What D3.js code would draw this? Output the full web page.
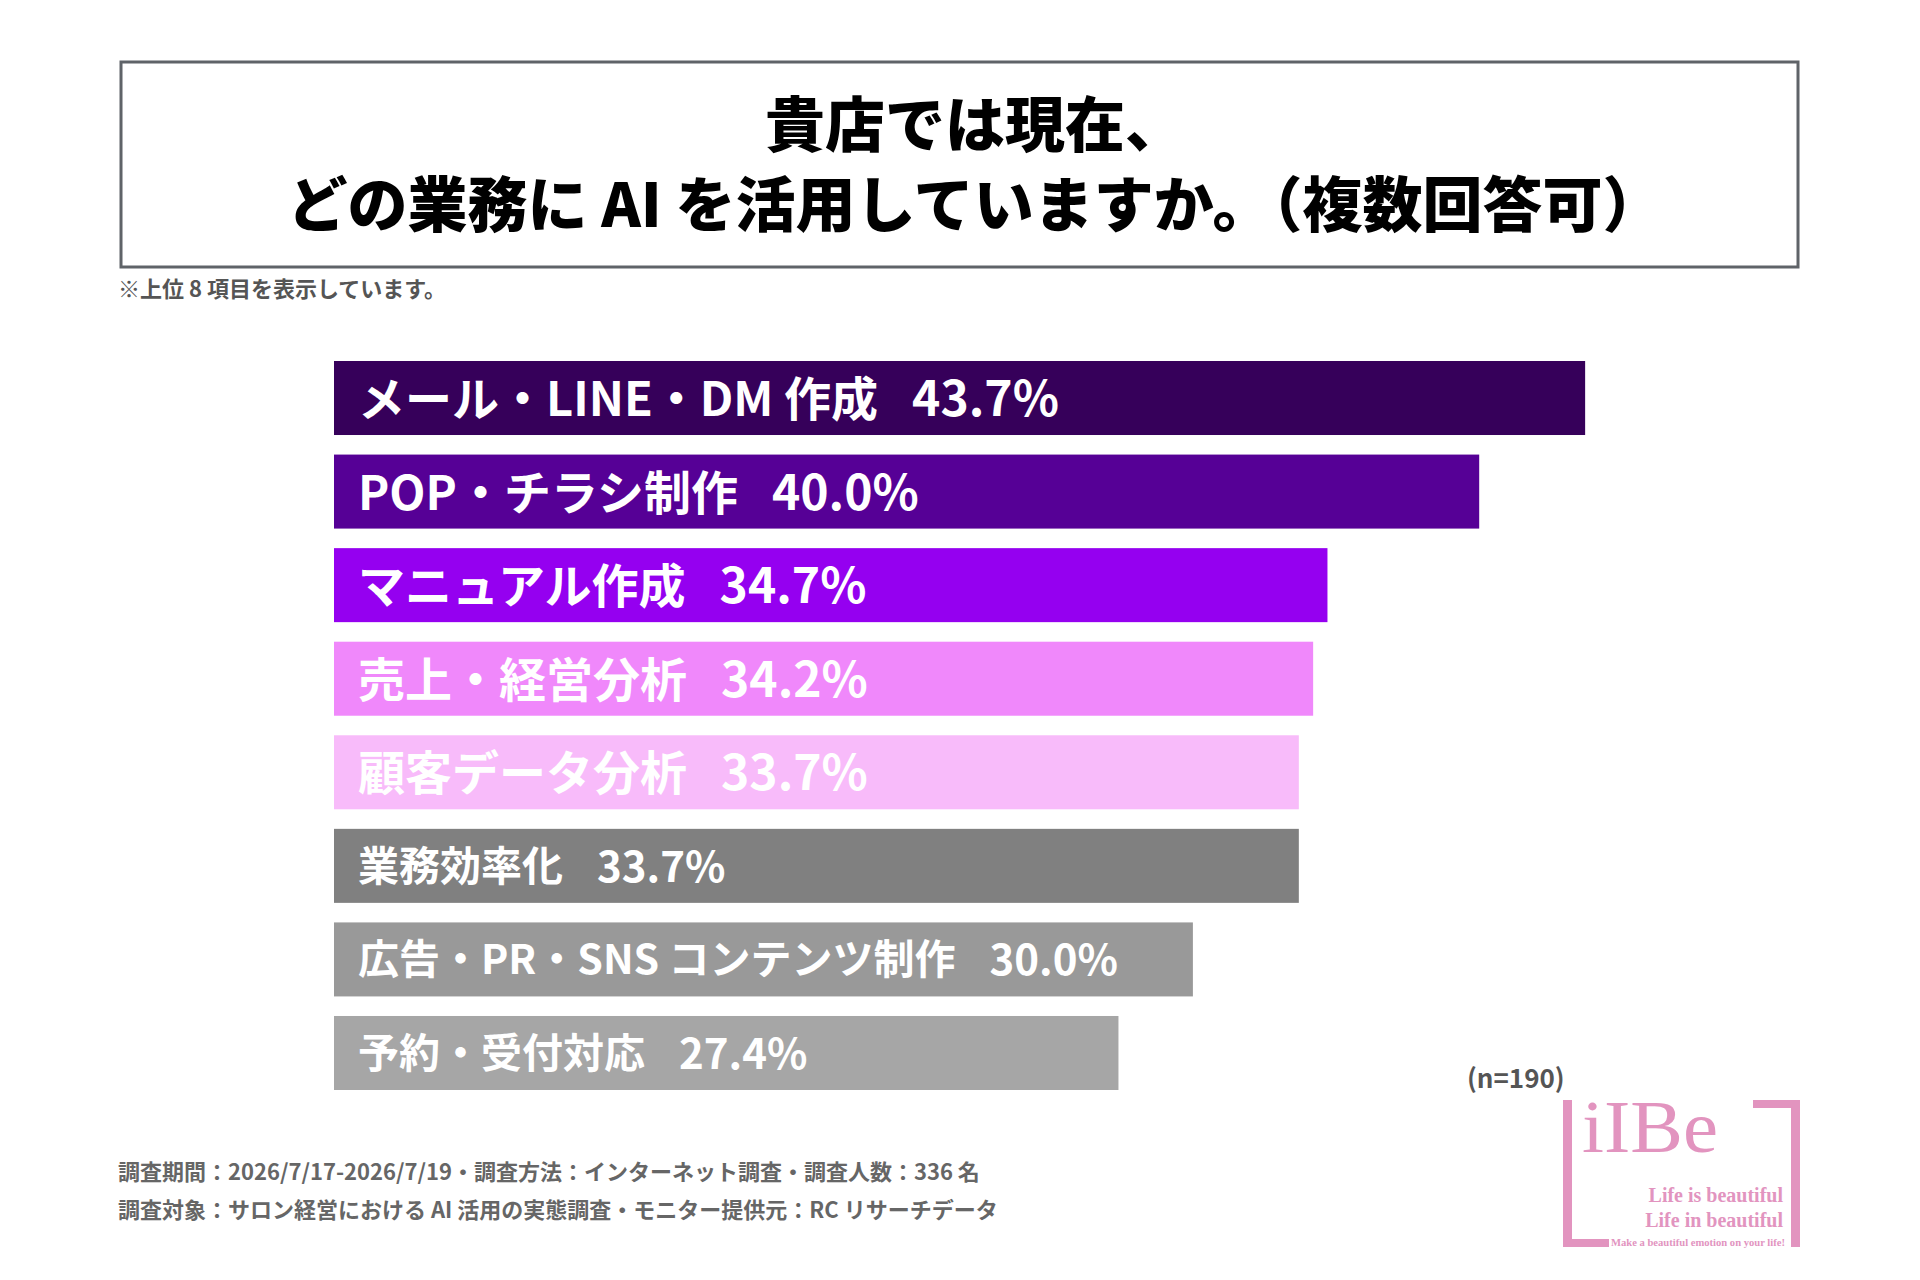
<!DOCTYPE html>
<html lang="ja">
<head>
<meta charset="utf-8">
<script src="https://cdn.jsdelivr.net/npm/d3@7/dist/d3.min.js"></script>
<style>
  html, body { margin: 0; padding: 0; background: #ffffff; }
  svg { display: block; }
  .jp { font-family: "Noto Sans CJK JP", "Noto Sans", sans-serif; }
  .serif { font-family: "Liberation Serif", "DejaVu Serif", serif; }
</style>
</head>
<body>
<script>
// ---- data ----
const categories = [
  "メール・LINE・DM 作成",
  "POP・チラシ制作",
  "マニュアル作成",
  "売上・経営分析",
  "顧客データ分析",
  "業務効率化",
  "広告・PR・SNS コンテンツ制作",
  "予約・受付対応"
];
const values = [43.7, 40.0, 34.7, 34.2, 33.7, 33.7, 30.0, 27.4];
const barColors = ["#36005a", "#560096", "#9500f0", "#f088fb", "#f8bbfa", "#808080", "#999999", "#a6a6a6"];
const titleLines = ["貴店では現在、", "どの業務に AI を活用していますか。（複数回答可）"];
const noteText = "※上位 8 項目を表示しています。";
const sampleText = "(n=190)";
const footerLines = [
  "調査期間：2026/7/17-2026/7/19・調査方法：インターネット調査・調査人数：336 名",
  "調査対象：サロン経営における AI 活用の実態調査・モニター提供元：RC リサーチデータ"
];

const W = 1920, H = 1280;
const svg = d3.select("body").append("svg").attr("width", W).attr("height", H);

// ---- title box ----
svg.append("rect")
  .attr("x", 121).attr("y", 62).attr("width", 1677).attr("height", 205)
  .attr("fill", "#fff").attr("stroke", "#5f6368").attr("stroke-width", 3);

svg.selectAll("text.title").data(titleLines).enter().append("text")
  .attr("class", "title jp")
  .attr("x", 975)
  .attr("y", (d, i) => 120 + i * 80)
  .attr("text-anchor", "middle")
  .attr("dominant-baseline", "central")
  .attr("font-size", 60)
  .attr("font-weight", 900)
  .attr("fill", "#000")
  .text(d => d);

svg.append("text")
  .attr("class", "jp")
  .attr("x", 118).attr("y", 287)
  .attr("dominant-baseline", "central")
  .attr("font-size", 22).attr("font-weight", 700).attr("fill", "#555")
  .text(noteText);

// ---- scales ----
const x = d3.scaleLinear().domain([0, 50]).range([334, 334 + 50 * 28.63]);
const y = d3.scaleBand().domain(categories).range([361, 1090]).paddingInner(0.209).paddingOuter(0);
const labelSize = i => (i < 5 ? 47 : 41);

const g = svg.append("g");
g.selectAll("rect.bar").data(categories).enter().append("rect")
  .attr("class", "bar")
  .attr("x", x(0))
  .attr("y", d => y(d))
  .attr("width", (d, i) => x(values[i]) - x(0))
  .attr("height", y.bandwidth())
  .attr("fill", (d, i) => barColors[i]);

const labels = g.selectAll("text.lbl").data(categories).enter().append("text")
  .attr("class", "lbl jp")
  .attr("x", x(0) + 24)
  .attr("y", d => y(d) + y.bandwidth() / 2 - 3)
  .attr("dominant-baseline", "central")
  .attr("font-size", (d, i) => labelSize(i))
  .attr("font-weight", 700)
  .attr("fill", "#fff");
labels.append("tspan").text(d => d);
labels.append("tspan").attr("dx", 34).attr("font-size", (d, i) => labelSize(i) + 1)
  .text((d, i) => values[i].toFixed(1) + "%");

// ---- n ----
svg.append("text")
  .attr("class", "jp")
  .attr("x", 1467).attr("y", 1076)
  .attr("dominant-baseline", "central")
  .attr("font-size", 26).attr("font-weight", 700).attr("fill", "#555")
  .text(sampleText);

// ---- footer ----
svg.selectAll("text.foot").data(footerLines).enter().append("text")
  .attr("class", "foot jp")
  .attr("x", 118)
  .attr("y", (d, i) => 1170 + i * 38)
  .attr("dominant-baseline", "central")
  .attr("font-size", 22).attr("font-weight", 700).attr("fill", "#666")
  .text(d => d);

// ---- logo ----
const pink = "#e294bf";
const logo = svg.append("g");
logo.append("rect").attr("x", 1563).attr("y", 1100).attr("width", 9).attr("height", 147).attr("fill", pink);
logo.append("rect").attr("x", 1563).attr("y", 1239).attr("width", 46).attr("height", 8).attr("fill", pink);
logo.append("rect").attr("x", 1753).attr("y", 1100).attr("width", 47).attr("height", 8).attr("fill", pink);
logo.append("rect").attr("x", 1791).attr("y", 1100).attr("width", 9).attr("height", 147).attr("fill", pink);
logo.append("text").attr("class", "serif").attr("x", 1582).attr("y", 1152)
  .attr("font-size", 74).attr("fill", pink)
  .attr("textLength", 136).attr("lengthAdjust", "spacingAndGlyphs").text("iIBe");
logo.append("text").attr("class", "serif").attr("x", 1783).attr("y", 1202).attr("text-anchor", "end")
  .attr("font-weight", 700).attr("font-size", 20).attr("fill", pink).text("Life is beautiful");
logo.append("text").attr("class", "serif").attr("x", 1783).attr("y", 1227).attr("text-anchor", "end")
  .attr("font-weight", 700).attr("font-size", 20).attr("fill", pink).text("Life in beautiful");
logo.append("text").attr("class", "serif").attr("x", 1611).attr("y", 1246)
  .attr("font-weight", 700).attr("font-size", 11).attr("fill", pink)
  .attr("textLength", 174).attr("lengthAdjust", "spacingAndGlyphs")
  .text("Make a beautiful emotion on your life!");
</script>
</body>
</html>
